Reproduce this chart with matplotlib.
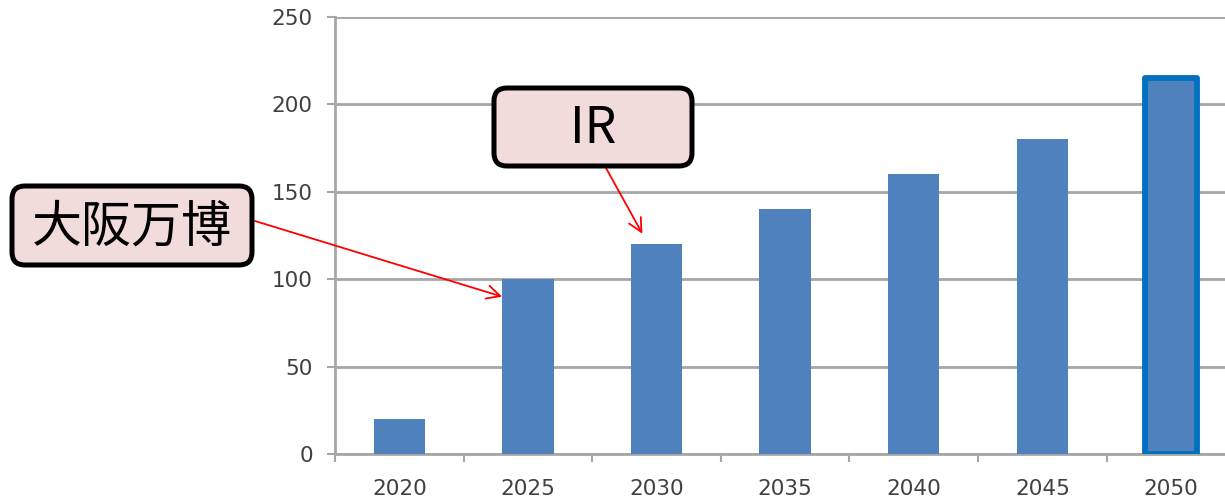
import matplotlib
matplotlib.use('Agg')
import matplotlib.pyplot as plt
from matplotlib.patches import FancyBboxPatch

years = ['2020', '2025', '2030', '2035', '2040', '2045', '2050']
values = [20, 100, 120, 140, 160, 180, 215]
yticks = [0, 50, 100, 150, 200, 250]

bar_color = '#4f81bd'
grid_color = '#a6a6a6'
label_color = '#404040'
jp_font = ['Noto Sans CJK JP', 'DejaVu Sans']


def main():
    fig = plt.figure(figsize=(12.25, 5.01), dpi=100)
    ax = fig.add_axes([335 / 1225, 1 - 454 / 501, 1 - 335 / 1225, (454 - 17) / 501])

    x = list(range(len(years)))
    bars = ax.bar(x, values, width=0.4, color=bar_color, zorder=3)
    # last bar is highlighted with a thick blue outline
    bars[-1].set_edgecolor('#0070c0')
    bars[-1].set_linewidth(4.2)
    bars[-1].set_joinstyle('round')

    ax.set_yticks(yticks)
    ax.yaxis.grid(True, color=grid_color, linewidth=2, zorder=0)

    ax.set_xticks(x)
    ax.set_xticklabels(years)
    ax.set_xticks([i - 0.5 for i in range(len(years) + 1)], minor=True)
    # set limits after ticks, otherwise set_xticks widens the view
    ax.set_xlim(-0.5, 6.42)
    ax.set_ylim(0, 250)
    ax.tick_params(axis='x', which='major', length=0, pad=18, labelsize=15.5, labelcolor=label_color)
    ax.tick_params(axis='x', which='minor', length=6, width=1.5, color=grid_color, direction='out')
    ax.tick_params(axis='y', length=6, width=1.5, color=grid_color, pad=10, labelsize=15.5, labelcolor=label_color)

    for side in ['top', 'right']:
        ax.spines[side].set_visible(False)
    for side in ['left', 'bottom']:
        ax.spines[side].set_color(grid_color)
        ax.spines[side].set_linewidth(2)

    # callout boxes (inches from bottom-left of figure)
    boxes = [
        ('大阪万博', (0.12, 2.36, 2.40, 0.79)),
        ('IR', (4.94, 3.35, 1.98, 0.78)),
    ]
    for label, (bx, by, bw, bh) in boxes:
        patch = FancyBboxPatch((bx, by), bw, bh, boxstyle='round,pad=0,rounding_size=0.13',
                               transform=fig.dpi_scale_trans, facecolor='#f2dcdb',
                               edgecolor='black', linewidth=3.6, zorder=5)
        fig.add_artist(patch)
        fig.text((bx + bw / 2) / 12.25, (by + bh / 2 - 0.02) / 5.01, label, ha='center', va='center',
                 fontsize=36, family=jp_font, color='black', zorder=6)

    arrow = dict(arrowstyle='->', color='red', lw=1.3, mutation_scale=24, shrinkA=0, shrinkB=0)
    ax.annotate('', xy=(0.80, values[1] * 0.9), xycoords='data',
                xytext=(255, 280), textcoords='figure pixels', arrowprops=arrow,
                annotation_clip=False)
    ax.annotate('', xy=(1.89, values[2] + 6), xycoords='data',
                xytext=(606, 333), textcoords='figure pixels', arrowprops=arrow,
                annotation_clip=False)

    fig.savefig('out.png', dpi=100)


if __name__ == "__main__":
    main()
